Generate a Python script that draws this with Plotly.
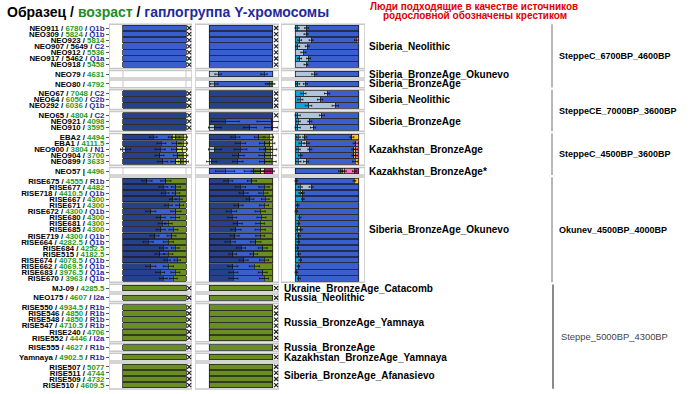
import plotly.graph_objects as go

_ = None
# ---------------- samples ----------------
names = ["NEO911", "NEO309", "NEO923", "NEO907", "NEO912", "NEO917", "NEO918",
         "NEO79", "NEO80",
         "NEO67", "NEO64", "NEO292",
         "NEO65", "NEO921", "NEO910",
         "EBA2", "EBA1", "NEO900", "NEO904", "NEO899",
         "NEO57",
         "RISE675", "RISE677", "RISE718", "RISE667", "RISE671", "RISE672", "RISE680", "RISE681",
         "RISE685", "RISE719", "RISE664", "RISE684", "RISE515", "RISE674", "RISE662", "RISE683", "RISE670",
         "MJ-09", "NEO175",
         "RISE550", "RISE546", "RISE548", "RISE547", "RISE240", "RISE552",
         "RISE555", "Yamnaya",
         "RISE507", "RISE511", "RISE509", "RISE510"]
ages = ["6780", "5824", "5814", "5649", "5536", "5462", "5458",
        "4631", "4792",
        "7048", "6050", "6036",
        "4804", "4098", "3595",
        "4494", "4111.5", "3804", "3700", "3633",
        "4496",
        "4555", "4482", "4410.5", "4300", "4300", "4300", "4300", "4300",
        "4300", "4300", "4282.5", "4252.5", "4182.5", "4078.5", "4069.5", "3976.5", "3963",
        "4285.5", "4607",
        "4934.5", "4850", "4850", "4710.5", "4706", "4446",
        "4627", "4902.5",
        "5077", "4744", "4732", "4609.5"]
haplos = ["Q1b", "Q1b", "", "C2", "", "Q1a", "",
          "", "",
          "C2", "C2b", "Q1b",
          "C2", "", "",
          "", "", "N1", "", "",
          "",
          "R1b", "", "Q1b", "", "", "Q1b", "", "",
          "", "Q1b", "Q1b", "", "", "Q1b", "Q1b", "Q1a", "Q1b",
          "", "I2a",
          "R1b", "R1b", "R1b", "R1b", "", "I2a",
          "R1b", "R1b",
          "", "", "", ""]
ages_black = ["NEO907", "NEO917"]
bar_separator = {"NEO57": " | "}

group_sizes = [7, 1, 1, 3, 3, 5, 1, 17, 1, 1, 6, 1, 1, 4]
group_names = ["Siberia_Neolithic", "Siberia_BronzeAge_Okunevo", "Siberia_BronzeAge",
               "Siberia_Neolithic", "Siberia_BronzeAge", "Kazakhstan_BronzeAge",
               "Kazakhstan_BronzeAge*", "Siberia_BronzeAge_Okunevo",
               "Ukraine_BronzeAge_Catacomb", "Russia_Neolithic", "Russia_BronzeAge_Yamnaya",
               "Russia_BronzeAge", "Kazakhstan_BronzeAge_Yamnaya", "Siberia_BronzeAge_Afanasievo"]
group_npanels = [3, 3, 3, 3, 3, 3, 3, 3, 2, 2, 2, 2, 2, 2]

cluster_names = ["SteppeC_6700BP_4600BP", "SteppeCE_7000BP_3600BP", "SteppeC_4500BP_3600BP",
                 "Okunev_4500BP_4000BP", "Steppe_5000BP_4300BP"]
cluster_first_group = [0, 3, 5, 7, 8]
cluster_last_group = [2, 4, 6, 7, 13]

# ---------------- panel 1 ----------------
p1_lgray  = [_, _, _, _, _, _, _, _, _, _, _, _, _, _, _, _, _, .04, _, _, _,
             _, _, _, _, _, _, _, _, _, _, _, _, _, _, _, _, _,
             _, _, _, _, _, _, _, _, _, _, _, _, _, _]
p1_navy   = [_, _, _, _, _, _, _, _, _, 1, 1, 1, 1, 1, 1, .48, .61, .55, .58, .63, _,
             .38, .64, .67, .79, .72, .44, .60, .62, .60, .50, .40, .64, .58, .70, .44, .59, .64,
             _, _, _, _, _, _, _, _, _, _, _, _, _, _]
p1_mblue  = [1, 1, 1, 1, 1, 1, 1, _, _, _, _, _, _, _, _, .30, .24, .26, .29, .21, _,
             .30, .20, .17, .10, .18, .40, .23, .10, .20, .27, .32, .19, .14, .16, .28, .24, .16,
             _, _, _, _, _, _, _, _, _, _, _, _, _, _]
p1_ygreen = [_, _, _, _, _, _, _, _, _, _, _, _, _, _, _, .05, _, .09, _, .07, _,
             _, _, _, _, _, _, _, _, _, _, _, _, _, _, _, _, _,
             _, _, _, _, _, _, _, _, _, _, _, _, _, _]
p1_olive  = [_, _, _, _, _, _, _, _, _, _, _, _, _, _, _, .13, .105, _, .09, .05, _,
             .32, .16, .16, .11, .10, .16, .17, .28, .20, .23, .28, .17, .28, .14, .28, .17, .20,
             1, 1, 1, 1, 1, 1, 1, 1, 1, 1, 1, 1, 1, 1]
p1_yellow = [_, _, _, _, _, _, _, _, _, _, _, _, _, _, _, .04, .045, .06, .04, .04, _,
             _, _, _, _, _, _, _, _, _, _, _, _, _, _, _, _, _,
             _, _, _, _, _, _, _, _, _, _, _, _, _, _]
p1_err    = [_, _, _, _, _, _, _, _, _, _, _, _, _, _, _, .06, .07, .08, .07, .08, _,
             .08, .07, .06, .05, .06, .08, .07, .06, .07, .07, .08, .06, .07, .05, .08, .07, .06,
             _, _, _, _, _, _, _, _, _, _, _, _, _, _]
p1_cross  = [1, 1, 1, 1, 1, 1, 1, 0, 0, 1, 1, 1, 1, 1, 1, 0, 0, 0, 0, 0, 0,
             0, 0, 0, 0, 0, 0, 0, 0, 0, 0, 0, 0, 0, 0, 0, 0, 0,
             1, 1, 1, 1, 1, 1, 1, 1, 1, 1, 1, 1, 1, 1]

# ---------------- panel 2 ----------------
p2_lgray  = [_, _, _, _, _, _, _, .14, .08, _, _, _, _, _, .09, _, _, .09, _, .04, _,
             _, _, _, _, _, _, _, _, _, _, _, _, _, _, _, _, _,
             _, _, _, _, _, _, _, _, _, _, _, _, _, _]
p2_navy   = [_, _, _, _, _, _, _, _, _, 1, 1, 1, 1, .25, .55, .41, .49, .40, .46, .41, _,
             .30, .49, .54, .64, .46, .35, .36, .45, .42, .40, .33, .50, .37, .54, .37, .38, .38,
             _, _, _, _, _, _, _, _, _, _, _, _, _, _]
p2_mblue  = [1, 1, 1, 1, 1, 1, 1, .72, .86, _, _, _, _, .72, .33, .37, .38, .40, .41, .42, .25,
             .37, .37, .31, .24, .40, .45, .46, .35, .38, .40, .40, .34, .33, .32, .34, .46, .48,
             _, _, _, _, _, _, _, _, _, _, _, _, _, _]
p2_bblue  = [_, _, _, _, _, _, _, .14, _, _, _, _, _, _, _, _, _, _, _, _, .45,
             _, _, _, _, _, _, _, _, _, _, _, _, _, _, _, _, _,
             _, _, _, _, _, _, _, _, _, _, _, _, _, _]
p2_olive  = [_, _, _, _, _, _, _, _, .03, _, _, _, _, _, _, .16, .08, .07, .09, .10, .11,
             .33, .14, .15, .12, .14, .20, .18, .20, .20, .20, .27, .16, .30, .14, .29, .16, .14,
             1, 1, 1, 1, 1, 1, 1, 1, 1, 1, 1, 1, 1, 1]
p2_yellow = [_, _, _, _, _, _, _, _, .03, _, _, _, _, _, _, .06, .05, .04, .04, .03, .06,
             _, _, _, _, _, _, _, _, _, _, _, _, _, _, _, _, _,
             _, _, _, _, _, _, _, _, _, _, _, _, _, _]
p2_magenta = [_, _, _, _, _, _, _, _, _, _, _, _, _, _, _, _, _, _, _, _, .13,
              _, _, _, _, _, _, _, _, _, _, _, _, _, _, _, _, _,
              _, _, _, _, _, _, _, _, _, _, _, _, _, _]
p2_darkred = [_, _, _, _, _, _, _, _, _, _, _, _, _, .03, .03, _, _, _, _, _, _,
              _, _, _, _, _, _, _, _, _, _, _, _, _, _, _, _, _,
              _, _, _, _, _, _, _, _, _, _, _, _, _, _]
p2_err    = [_, _, _, _, _, _, _, .05, .06, _, _, _, _, .22, .10, .07, .08, .10, .09, .08, .15,
             .07, .08, .07, .06, .07, .08, .07, .07, .08, .07, .08, .07, .06, .07, .08, .07, .07,
             _, _, _, _, _, _, _, _, _, _, _, _, _, _]
p2_cross  = [1, 1, 1, 1, 1, 1, 1, 0, 0, 1, 1, 1, 1, 0, 0, 0, 0, 0, 0, 0, 0,
             0, 0, 0, 0, 0, 0, 0, 0, 0, 0, 0, 0, 0, 0, 0, 0, 0,
             1, 1, 1, 1, 1, 1, 1, 1, 1, 1, 1, 1, 1, 1]

# ---------------- panel 3 ----------------
p3_cyan   = [.03, _, .07, .04, _, .07, _, _, .04, .13, .08, .21, .04, .05, .04, .05, .10, .05, .08, .05, _,
             .02, .08, .08, .12, .04, .02, .07, .05, .04, .06, .05, .03, .06, .08, .05, .02, .06,
             _, _, _, _, _, _, _, _, _, _, _, _, _, _]
p3_lgray  = [.15, .17, .18, .15, .13, .14, .17, .30, .12, .37, .31, .42, .38, .18, .24, .10, .08, .18, _, .12, _,
             _, .17, .04, _, _, _, _, _, .05, _, _, _, _, _, _, _, _,
             _, _, _, _, _, _, _, _, _, _, _, _, _, _]
p3_blue   = [.82, .83, .71, .81, .87, .79, .83, .70, .84, .50, .61, .37, .58, .77, .72, .74, .77, .69, .84, .77, .71,
             .91, .75, .88, .88, .96, .98, .93, .95, .91, .94, .95, .97, .94, .92, .95, .98, .94,
             _, _, _, _, _, _, _, _, _, _, _, _, _, _]
p3_olive  = [_, _, _, _, _, _, _, _, _, _, _, _, _, _, _, _, _, _, _, _, .03,
             _, _, _, _, _, _, _, _, _, _, _, _, _, _, _, _, _,
             _, _, _, _, _, _, _, _, _, _, _, _, _, _]
p3_gold   = [_, _, _, _, _, _, _, _, _, _, _, _, _, _, _, .11, _, .03, .03, .06, .03,
             .07, _, _, _, _, _, _, _, _, _, _, _, _, _, _, _, _,
             _, _, _, _, _, _, _, _, _, _, _, _, _, _]
p3_pink   = [_, _, .04, _, _, _, _, _, _, _, _, _, _, _, _, _, .05, .05, .05, _, .16,
             _, _, _, _, _, _, _, _, _, _, _, _, _, _, _, _, _,
             _, _, _, _, _, _, _, _, _, _, _, _, _, _]
p3_magenta = [_, _, _, _, _, _, _, _, _, _, _, _, _, _, _, _, _, _, _, _, .07,
              _, _, _, _, _, _, _, _, _, _, _, _, _, _, _, _, _,
              _, _, _, _, _, _, _, _, _, _, _, _, _, _]
p3_err    = [.03, .03, .03, .03, .04, .03, .03, .04, .03, .04, .04, .05, .04, .03, .04, .03, .04, .03, .03, .04, .03,
             .02, .03, .02, .02, .02, .02, .02, .02, .02, .02, .02, .02, .02, .02, .02, .02, .02,
             _, _, _, _, _, _, _, _, _, _, _, _, _, _]

# ---------------- colours ----------------
C_NAVY, C_MBLUE, C_BBLUE = "#27408B", "#3A5FCD", "#4876FF"
C_LGRAY, C_CYAN = "#B0C4DE", "#0FA3DC"
C_OLIVE, C_YGREEN, C_YELLOW, C_GOLD = "#6B8E23", "#C5E33B", "#EEE685", "#FFC125"
C_PINK, C_MAGENTA, C_DARKRED = "#FF6EB4", "#CD1076", "#8B0A50"
C_AGE, C_HAP = "#1f9a1f", "#1f2aa8"

# ---------------- layout constants ----------------
W, H = 700, 394
ROW_PX, FIRST_PX, GAP = 6.1, 28.0, 0.58
XLO, XHI = -0.222, 1.095
panel_px = [(109, 192), (195, 279), (281, 365)]
axes = ["x", "x2", "x3"]

ypos = []
idx = 0
for g, n in enumerate(group_sizes):
    for k in range(n):
        ypos.append(idx + g * GAP)
        idx += 1
first_row, last_row = [], []
s = 0
for n in group_sizes:
    first_row.append(s)
    last_row.append(s + n - 1)
    s += n

fig = go.Figure()


def add_panel(comps, errs, crosses, xa):
    n = len(names)
    lastc = [None] * n
    for ci, (vals, col) in enumerate(comps):
        for r in range(n):
            if vals[r] is not None:
                lastc[r] = ci
    cum = [0.0] * n
    ex, ey, ee = [], [], []
    for ci, (vals, col) in enumerate(comps):
        xs, ys = [], []
        for r in range(n):
            if vals[r] is None:
                continue
            xs.append(vals[r])
            ys.append(ypos[r])
            cum[r] += vals[r]
            if errs is not None and errs[r] is not None and lastc[r] != ci:
                ex.append(cum[r]); ey.append(ypos[r]); ee.append(errs[r])
        if xs:
            fig.add_trace(go.Bar(x=xs, y=ys, orientation="h", xaxis=xa, yaxis="y", width=0.9,
                                 marker=dict(color=col, line=dict(color="#1a1a1a", width=0.7)),
                                 showlegend=False, hoverinfo="skip"))
    if ex:
        fig.add_trace(go.Scatter(x=ex, y=ey, mode="markers", xaxis=xa, yaxis="y",
                                 marker=dict(size=1, color="rgba(0,0,0,0)"),
                                 error_x=dict(type="data", array=ee, color="#111", thickness=0.8, width=1),
                                 showlegend=False, hoverinfo="skip"))
    if crosses is not None:
        cy = [ypos[r] for r in range(n) if crosses[r]]
        fig.add_trace(go.Scatter(x=[1.05] * len(cy), y=cy, mode="markers", xaxis=xa, yaxis="y",
                                 marker=dict(symbol="x-thin", size=4, line=dict(color="#222", width=1.2)),
                                 showlegend=False, hoverinfo="skip"))


add_panel([(p1_lgray, C_LGRAY), (p1_navy, C_NAVY), (p1_mblue, C_MBLUE), (p1_ygreen, C_YGREEN),
           (p1_olive, C_OLIVE), (p1_yellow, C_YELLOW)], p1_err, p1_cross, "x")
add_panel([(p2_lgray, C_LGRAY), (p2_navy, C_NAVY), (p2_mblue, C_MBLUE), (p2_bblue, C_BBLUE),
           (p2_olive, C_OLIVE), (p2_yellow, C_YELLOW), (p2_magenta, C_MAGENTA), (p2_darkred, C_DARKRED)],
          p2_err, p2_cross, "x2")
add_panel([(p3_cyan, C_CYAN), (p3_lgray, C_LGRAY), (p3_blue, C_MBLUE), (p3_olive, C_OLIVE),
           (p3_gold, C_GOLD), (p3_pink, C_PINK), (p3_magenta, C_MAGENTA)], p3_err, None, "x3")

# ---------------- group boxes ----------------
shapes = []
for g in range(len(group_sizes)):
    y0 = ypos[first_row[g]] - 0.62
    y1 = ypos[last_row[g]] + 0.62
    for p in range(group_npanels[g]):
        xr = axes[p]
        shapes.append(dict(type="rect", xref=xr, yref="y", x0=XLO, x1=XHI, y0=y0, y1=y1,
                           line=dict(color="#c8c8c8", width=1.5), fillcolor="white", layer="below"))
        for xv in (0, 1):
            shapes.append(dict(type="line", xref=xr, yref="y", x0=xv, x1=xv, y0=y0, y1=y1,
                               line=dict(color="#c8c8c8", width=1), layer="below"))

annotations = []
for g in range(len(group_sizes)):
    yc = (ypos[first_row[g]] + ypos[last_row[g]]) / 2
    xp = 367 / W if group_npanels[g] == 3 else 282 / W
    annotations.append(dict(x=xp, y=yc, xref="paper", yref="y", text=group_names[g],
                            showarrow=False, xanchor="left", yanchor="middle",
                            font=dict(family="Liberation Sans, Arial", size=10, color="black", weight="bold")))

for c in range(len(cluster_names)):
    y0 = ypos[first_row[cluster_first_group[c]]] - 0.6
    y1 = ypos[last_row[cluster_last_group[c]]] + 0.6
    last = c == len(cluster_names) - 1
    xl = 553 / W if last else 552 / W
    shapes.append(dict(type="line", xref="paper", yref="y", x0=xl, x1=xl, y0=y0, y1=y1,
                       line=dict(color="#8a8a8a" if last else "#a0a0a0", width=2 if last else 1.5)))
    annotations.append(dict(x=(559 if last else 557) / W, y=(y0 + y1) / 2, xref="paper", yref="y",
                            text=cluster_names[c], showarrow=False, xanchor="left", yanchor="middle",
                            font=dict(family="Liberation Sans, Arial", size=9.4 if last else 9,
                                      color="#444" if last else "black",
                                      weight="normal" if last else "bold")))

# title and note
annotations.append(dict(x=5 / W, y=1 - 12 / H, xref="paper", yref="paper", showarrow=False,
                        xanchor="left", yanchor="middle",
                        text=("Образец / <span style='color:#1f8c1f'>возраст</span> / "
                              "<span style='color:#1f2a9c'>гаплогруппа Y-хромосомы</span>"),
                        font=dict(family="Liberation Sans, Arial", size=14, color="black", weight="bold")))
annotations.append(dict(x=474 / W, y=1 - 6 / H, xref="paper", yref="paper", showarrow=False,
                        xanchor="center", yanchor="middle",
                        text="Люди подходящие в качестве источников",
                        font=dict(family="Liberation Sans, Arial", size=10, color="#e00000", weight="bold")))
annotations.append(dict(x=475 / W, y=1 - 15.5 / H, xref="paper", yref="paper", showarrow=False,
                        xanchor="center", yanchor="middle",
                        text="родословной обозначены крестиком",
                        font=dict(family="Liberation Sans, Arial", size=10, color="#e00000", weight="bold")))

# sample tick labels
ticktext = []
for i, nm in enumerate(names):
    sep = bar_separator.get(nm, " / ")
    acol = "black" if nm in ages_black else C_AGE
    t = f"{nm}{sep}<span style='color:{acol}'>{ages[i]}</span>"
    if haplos[i]:
        t += f" / <span style='color:{C_HAP}'>{haplos[i]}</span>"
    ticktext.append(t)

yr_bottom = (H - FIRST_PX) / ROW_PX
yr_top = -FIRST_PX / ROW_PX

xcommon = dict(range=[XLO, XHI], visible=False, showgrid=False, zeroline=False, fixedrange=True)
fig.update_layout(
    width=W, height=H, margin=dict(l=0, r=0, t=0, b=0),
    paper_bgcolor="white", plot_bgcolor="white",
    barmode="stack", showlegend=False,
    xaxis=dict(domain=[panel_px[0][0] / W, panel_px[0][1] / W], anchor="y", **xcommon),
    xaxis2=dict(domain=[panel_px[1][0] / W, panel_px[1][1] / W], anchor="y", **xcommon),
    xaxis3=dict(domain=[panel_px[2][0] / W, panel_px[2][1] / W], anchor="y", **xcommon),
    yaxis=dict(range=[yr_bottom, yr_top], domain=[0, 1], anchor="free", position=panel_px[0][0] / W,
               tickmode="array", tickvals=ypos, ticktext=ticktext, ticks="outside", ticklen=3,
               tickcolor="#555", tickwidth=1, showgrid=False, zeroline=False, showline=False,
               automargin=False, fixedrange=True,
               tickfont=dict(family="Liberation Sans, Arial", size=7.8, color="black", weight="bold")),
    shapes=shapes, annotations=annotations,
)

fig.write_html("out.html", config={"displayModeBar": False},
               post_script="document.body.style.margin='0';document.body.style.overflow='hidden';")
